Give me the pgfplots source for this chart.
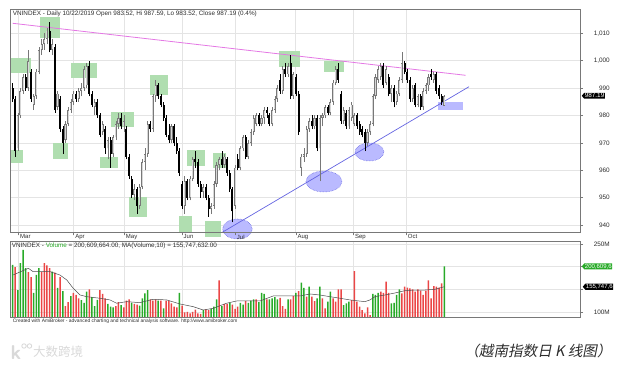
\documentclass[border=0pt]{standalone}
\usepackage{fontspec}
\setmainfont{Liberation Sans}
\newfontfamily\cjk{Noto Sans CJK SC}
\newfontfamily\cjkit[FakeSlant=0.2]{Noto Sans CJK SC}
\usepackage{pgfplots}
\pgfplotsset{compat=1.18}
\usepackage{pgfplotstable}
\usetikzlibrary{shapes.symbols}

\definecolor{frame}{RGB}{120,120,120}
\definecolor{gridc}{RGB}{228,228,228}
\definecolor{boxg}{RGB}{176,222,176}
\definecolor{blueann}{RGB}{186,186,255}
\definecolor{bluedash}{RGB}{90,90,220}
\definecolor{tlmag}{RGB}{228,120,228}
\definecolor{tlblue}{RGB}{100,100,225}
\definecolor{upedge}{RGB}{120,120,120}
\definecolor{upfill}{RGB}{215,215,215}
\definecolor{volg}{RGB}{40,170,40}
\definecolor{volr}{RGB}{235,70,70}
\definecolor{txt}{RGB}{45,45,45}

\newcommand\fs[1]{\fontsize{#1}{#1}\selectfont}

\pgfplotstableread{
i o h l c
0 990 992 985 986
1 986 987 965 967
2 968 981 967 980
3 980 990 979 989
4 989 995 988 994
5 994 995 989 990
6 990 1004 989 1000
7 996 997 985 986
8 984 988 982 987
9 987 997 986 996
10 996 1005 995 1004
11 1004 1008 1002 1006
12 1006 1010 1004 1008
13 1008 1012 1006 1011
14 1011 1014 1003 1004
15 1004 1008 1002 1006
16 1005 1006 981 982
17 983 989 982 988
18 986 987 974 975
19 975 976 966 970
20 971 978 970 977
21 977 983 976 982
22 982 986 981 985
23 985 989 984 988
24 988 989 985 986
25 986 990 985 989
26 989 992 987 990
27 990 998 989 997
28 991 999 990 998
29 998 1000 987 988
30 988 989 983 984
31 983 986 980 985
32 985 986 979 980
33 980 981 972 973
34 974 978 973 977
35 975 976 966 968
36 968 972 964 971
37 971 972 961 966
38 966 973 965 972
39 972 978 971 977
40 977 981 975 979
41 979 981 975 976
42 976 980 974 978
43 975 976 964 965
44 965 966 957 958
45 957 958 950 951
46 951 955 949 953
47 953 954 944 947
48 947 955 946 954
49 954 964 953 963
50 963 968 960 966
51 966 978 965 977
52 977 978 974 975
53 975 988 974 987
54 987 993 985 991
55 991 992 986 987
56 987 988 983 984
57 984 985 978 979
58 979 980 972 973
59 973 977 970 971
60 971 977 970 976
61 976 977 969 970
62 970 972 966 967
63 967 968 958 959
64 955 956 946 947
65 947 958 944 956
66 956 957 949 950
67 950 958 949 957
68 957 965 956 964
69 964 967 961 963
70 963 964 954 955
71 955 956 950 952
72 952 955 950 954
73 954 955 949 950
74 950 951 943 946
75 946 948 944 947
76 947 956 946 955
77 955 963 954 962
78 962 965 960 964
79 964 967 961 962
80 962 966 961 965
81 964 965 958 959
82 959 960 952 953
83 953 954 941 945
84 947 962 946 961
85 964 966 960 961
86 961 969 960 968
87 968 973 967 972
88 972 973 964 965
89 965 971 964 970
90 970 975 969 974
91 974 980 973 979
92 977 981 976 980
93 980 981 976 977
94 977 980 976 979
95 979 983 977 982
96 982 983 979 981
97 980 981 976 977
98 977 983 976 982
99 982 987 981 986
100 986 991 985 990
101 993 995 988 989
102 989 998 988 997
103 997 999 994 995
104 995 999 994 998
105 999 1002 986 987
106 987 996 986 995
107 994 995 987 988
108 988 989 973 974
109 961 966 958 965
110 965 968 963 966
111 966 976 965 975
112 975 979 974 978
113 978 980 975 976
114 976 980 975 979
115 979 980 967 968
116 968 980 956 979
117 979 981 976 980
118 980 984 979 983
119 983 984 980 981
120 981 986 980 985
121 985 993 984 992
122 992 998 991 997
123 997 999 992 993
124 988 989 977 978
125 978 983 977 982
126 981 982 975 976
127 976 983 975 982
128 979 985 978 984
129 977 981 976 980
130 980 981 975 976
131 977 978 973 974
132 975 976 972 973
133 974 975 967 970
134 970 975 969 974
135 974 978 973 977
136 977 988 976 987
137 987 995 986 994
138 993 998 992 997
139 994 999 993 998
140 998 999 990 991
141 992 998 991 997
142 994 995 987 988
143 988 991 985 990
144 990 991 983 985
145 985 989 984 988
146 988 994 987 993
147 993 1003 992 999
148 999 1000 995 996
149 996 997 992 993
150 993 994 985 986
151 986 991 985 990
152 991 992 983 984
153 984 988 983 987
154 987 988 982 983
155 983 990 982 989
156 989 992 988 991
157 991 995 989 994
158 995 997 993 994
159 993 996 992 995
160 995 996 988 989
161 990 991 986 987
162 987 988 984 985
163 983.52 987.59 983.52 987.19
}\candles

\pgfplotstableread{
i u v
0 1 204
1 0 199
2 1 148
3 1 208
4 1 237
5 1 197
6 0 188
7 0 177
8 1 142
9 1 182
10 1 197
11 0 188
12 0 208
13 0 203
14 0 197
15 1 189
16 0 187
17 1 153
18 0 177
19 1 146
20 0 113
21 0 122
22 1 135
23 0 142
24 0 138
25 0 130
26 1 126
27 1 120
28 1 145
29 0 150
30 1 133
31 1 113
32 1 127
33 0 148
34 0 140
35 0 130
36 1 118
37 1 112
38 1 110
39 0 113
40 0 122
41 1 115
42 0 110
43 0 125
44 0 128
45 1 120
46 0 118
47 0 116
48 1 114
49 1 130
50 1 141
51 1 148
52 0 128
53 0 125
54 0 128
55 1 125
56 0 125
57 1 108
58 0 125
59 0 125
60 0 119
61 0 112
62 0 110
63 1 142
64 0 114
65 0 99
66 0 100
67 0 97
68 0 100
69 0 105
70 0 97
71 0 96
72 1 104
73 0 106
74 0 104
75 1 107
76 1 112
77 1 128
78 0 170
79 1 113
80 0 118
81 0 118
82 1 120
83 0 116
84 0 107
85 0 112
86 1 120
87 1 116
88 0 124
89 1 120
90 1 125
91 1 128
92 0 128
93 1 122
94 1 142
95 1 140
96 0 128
97 1 128
98 1 130
99 1 133
100 1 128
101 0 131
102 0 113
103 0 107
104 1 128
105 0 128
106 0 135
107 1 142
108 0 146
109 1 165
110 1 153
111 0 134
112 1 156
113 0 134
114 0 124
115 1 130
116 1 156
117 0 130
118 0 108
119 1 123
120 1 145
121 0 130
122 0 123
123 0 150
124 0 150
125 1 115
126 1 119
127 1 123
128 0 126
129 0 190
130 0 123
131 0 112
132 0 104
133 0 97
134 0 110
135 0 93
136 1 140
137 1 138
138 1 142
139 0 145
140 0 142
141 0 167
142 0 142
143 1 119
144 1 120
145 1 138
146 1 150
147 0 141
148 0 156
149 0 154
150 0 152
151 0 150
152 0 145
153 0 150
154 0 147
155 0 138
156 0 147
157 0 170
158 0 130
159 0 157
160 0 156
161 0 154
162 0 163
163 1 200.61
}\volume

\begin{document}
\begin{tikzpicture}[x=1pt,y=1pt]
\path[use as bounding box] (0,0) rectangle (620,366);
\begin{axis}[
  at={(10.7pt,133.5pt)}, anchor=south west, scale only axis,
  width=569.3pt, height=223.5pt,
  xmin=-0.68, xmax=214.2, ymin=937.3, ymax=1018.87,
  clip=false,
  axis line style={draw=frame, line width=0.5pt},
  xtick={2.2,23,42.1,63.9,84,106.9,128.6,148.5},
  xticklabels={},
  ytick={940,950,...,1010},
  xtick pos=bottom, ytick pos=right, yticklabel pos=right,
  tick align=outside, major tick length=3pt,
  tick style={draw=frame, line width=0.4pt},
  grid=major, grid style={draw=gridc, line width=0.5pt},
  /pgf/number format/assume math mode=true,
  /pgf/number format/1000 sep={,},
  scaled y ticks=false,
  yticklabel style={font=\fs{6.4}, text=txt, anchor=east, inner sep=0pt, xshift=27pt},
]
% highlight boxes
\fill[boxg] (axis cs:-0.68,995.51) rectangle (axis cs:6.87,1001.0);
\fill[boxg] (axis cs:10.38,1008.28) rectangle (axis cs:17.92,1015.95);
\fill[boxg] (axis cs:-0.68,962.66) rectangle (axis cs:3.96,967.41);
\fill[boxg] (axis cs:15.28,964.12) rectangle (axis cs:20.94,969.96);
\fill[boxg] (axis cs:22.08,993.69) rectangle (axis cs:31.89,999.16);
\fill[boxg] (axis cs:33.02,960.84) rectangle (axis cs:39.81,964.85);
\fill[boxg] (axis cs:37.17,975.8) rectangle (axis cs:45.85,981.28);
\fill[boxg] (axis cs:43.96,942.96) rectangle (axis cs:50.75,950.26);
\fill[boxg] (axis cs:51.89,987.48) rectangle (axis cs:58.68,994.78);
\fill[boxg] (axis cs:62.83,937.12) rectangle (axis cs:67.74,943.32);
\fill[boxg] (axis cs:65.85,961.57) rectangle (axis cs:72.64,967.41);
\fill[boxg] (axis cs:72.64,935.7) rectangle (axis cs:78.68,941.5);
\fill[boxg] (axis cs:75.66,960.84) rectangle (axis cs:80.57,966.31);
\fill[boxg] (axis cs:100.57,997.7) rectangle (axis cs:108.49,1003.54);
\fill[boxg] (axis cs:117.55,995.88) rectangle (axis cs:125.09,999.89);
\fill[blueann] (axis cs:160.57,982.0) rectangle (axis cs:170,984.93);
\draw[bluedash, densely dotted, fill=blueann, line width=0.5pt] (axis cs:84.9,938.58) ellipse [x radius=14.8pt, y radius=10pt];
\draw[bluedash, densely dotted, fill=blueann, line width=0.5pt] (axis cs:117.55,955.91) ellipse [x radius=18pt, y radius=10.5pt];
\draw[bluedash, densely dotted, fill=blueann, line width=0.5pt] (axis cs:134.72,966.68) ellipse [x radius=14.5pt, y radius=9pt];
% trend lines
\addplot[tlmag, line width=0.8pt] coordinates {(0.08,1013.65) (171,994.67)};
\addplot[tlblue, line width=0.7pt] coordinates {(79.05,937.3) (172.3,990.5)};
% wicks
\addplot[draw=none, forget plot, error bars/.cd, y dir=plus, y explicit, error mark=none,
  error bar style={draw=upedge, line width=0.55pt}]
  table[x=i, y expr={\thisrow{c}>=\thisrow{o} ? \thisrow{l} : nan}, y error expr={\thisrow{h}-\thisrow{l}}] {\candles};
\addplot[draw=none, forget plot, error bars/.cd, y dir=plus, y explicit, error mark=none,
  error bar style={draw=black, line width=0.55pt}]
  table[x=i, y expr={\thisrow{c}<\thisrow{o} ? \thisrow{l} : nan}, y error expr={\thisrow{h}-\thisrow{l}}] {\candles};
% up bodies
\addplot[draw=none, forget plot, error bars/.cd, y dir=plus, y explicit, error mark=none,
  error bar style={draw=upedge, line width=2.1pt}]
  table[x=i, y expr={\thisrow{c}>=\thisrow{o} ? \thisrow{o} : nan}, y error expr={\thisrow{c}-\thisrow{o}}] {\candles};
\addplot[draw=none, forget plot, error bars/.cd, y dir=plus, y explicit, error mark=none,
  error bar style={draw=upfill, line width=1.0pt}]
  table[x=i, y expr={\thisrow{c}>=\thisrow{o} ? \thisrow{o}+0.3 : nan}, y error expr={\thisrow{c}-\thisrow{o}-0.6}] {\candles};
% down bodies
\addplot[draw=none, forget plot, error bars/.cd, y dir=plus, y explicit, error mark=none,
  error bar style={draw=black, line width=2.0pt}]
  table[x=i, y expr={\thisrow{c}<\thisrow{o} ? \thisrow{c} : nan}, y error expr={\thisrow{o}-\thisrow{c}}] {\candles};
% texts
\node[anchor=west, inner sep=0pt, font=\fs{6.35}, text=txt, xshift=2pt, yshift=-5.2pt] at (rel axis cs:0,1)
  {VNINDEX - Daily 10/22/2019 Open 983.52, Hi 987.59, Lo 983.52, Close 987.19 (0.4\%)};
\node[signal, signal to=west, signal pointer angle=100, fill=black, text=white, font=\fs{6.4},
  inner sep=0.6pt, anchor=west, xshift=1.5pt] at (axis cs:214.2,987.19) {987.19};
\end{axis}

% overlay axis: month tick labels drawn on top of the annotations
\begin{axis}[
  at={(10.7pt,133.5pt)}, anchor=south west, scale only axis,
  width=569.3pt, height=223.5pt,
  xmin=-0.68, xmax=214.2, ymin=937.3, ymax=1018.87,
  axis x line*=bottom, hide y axis,
  axis line style={draw=frame, line width=0.5pt, -},
  xtick={2.2,23,42.1,63.9,84,106.9,128.6,148.5},
  xticklabels={Mar,Apr,May,Jun,Jul,Aug,Sep,Oct},
  tick align=outside, major tick length=3pt,
  tick style={draw=frame, line width=0.4pt},
  xticklabel style={font=\fs{6}, text=txt, anchor=north west, inner sep=0pt, xshift=1.7pt, yshift=1pt},
]
\end{axis}

\begin{axis}[
  at={(10.7pt,49pt)}, anchor=south west, scale only axis,
  width=569.3pt, height=76pt,
  xmin=-0.68, xmax=214.2, ymin=88.96, ymax=256.6,
  axis line style={draw=frame, line width=0.5pt},
  xtick={2.2,23,42.1,63.9,84,106.9,128.6,148.5},
  xticklabels={}, xtick style={draw=none},
  ytick={100,150,200,250}, yticklabels={100M,,,250M},
  ytick pos=right, yticklabel pos=right,
  tick align=outside, major tick length=3pt,
  ytick style={draw=frame, line width=0.4pt},
  grid=major, grid style={draw=gridc, line width=0.5pt},
  yticklabel style={font=\fs{6.4}, text=txt, anchor=east, inner sep=0pt, xshift=27pt},
]
\addplot[ybar, bar width=1.5pt, bar shift=0pt, fill=volg, draw=none, forget plot]
  table[x=i, y expr={\thisrow{u}==1 ? \thisrow{v} : nan}] {\volume};
\addplot[ybar, bar width=1.5pt, bar shift=0pt, fill=volr, draw=none, forget plot]
  table[x=i, y expr={\thisrow{u}==0 ? \thisrow{v} : nan}] {\volume};
\addplot[black!70, line width=0.5pt] coordinates {
(0.2,181.6) (6,196.4) (7.8,188.9) (14.2,188.9) (17.9,181.6) (20.5,170.6) (22.9,152.3)
(25.5,137.5) (28,133.8) (33,130.3) (36.8,126.6) (39.3,119.3) (43.1,122.8) (48.1,120.6)
(53.1,128.1) (58.2,126.6) (63.2,117.7) (68.2,111.8) (72,104.4) (75.8,108.2) (80.8,119.3)
(84.6,124.3) (93.4,124.3) (98.4,135.3) (108.5,135.3) (112.3,139.7) (116,137.5) (119.8,133.8)
(123.6,130.3) (127.4,126.6) (133,122.8) (134.9,126.6) (136.8,133.8) (140.6,137.5) (144.3,141.9)
(148.1,147) (151.9,148.5) (155.7,148.5) (159.4,150) (163,155.75)};
\coordinate (vtl) at (rel axis cs:0,1);
\coordinate (vbl) at (rel axis cs:0,0);
\coordinate (tag1) at (axis cs:214.2,200.61);
\coordinate (tag2) at (axis cs:214.2,155.75);
\end{axis}

\node[anchor=west, inner sep=0pt, font=\fs{6.35}, text=txt, xshift=1pt, yshift=-4.5pt] at (vtl)
  {VNINDEX - \textcolor{volg}{Volume} = 200,609,664.00, MA(Volume,10) = 155,747,632.00};
\node[anchor=west, inner sep=0pt, font=\fs{4.9}, text=txt, xshift=2pt, yshift=-4pt] at (vbl)
  {Created with AmiBroker - advanced charting and technical analysis software. http://www.amibroker.com};
\node[signal, signal to=west, signal pointer angle=100, fill=volg, text=white, font=\fs{6},
  inner sep=0.6pt, anchor=west, xshift=1.5pt] at (tag1) {200,609,6};
\node[signal, signal to=west, signal pointer angle=100, fill=black, text=white, font=\fs{6},
  inner sep=0.6pt, anchor=west, xshift=2.5pt] at (tag2) {155,747,6};

% watermark and caption
\node[font=\sffamily\bfseries\fs{20}, text=gray!30] at (16,13) {k};
\draw[gray!30, line width=0.9pt] (24,20) circle (2.2) (29.5,20) circle (2.2);
\node[anchor=west, font=\cjk\fs{12.5}, text=gray!30, inner sep=0pt] at (33,14) {大数跨境};
\node[font=\cjkit\fs{14.6}, text=txt, inner sep=0pt] at (538,15.5) {（越南指数日 K 线图）};
\end{tikzpicture}
\end{document}
